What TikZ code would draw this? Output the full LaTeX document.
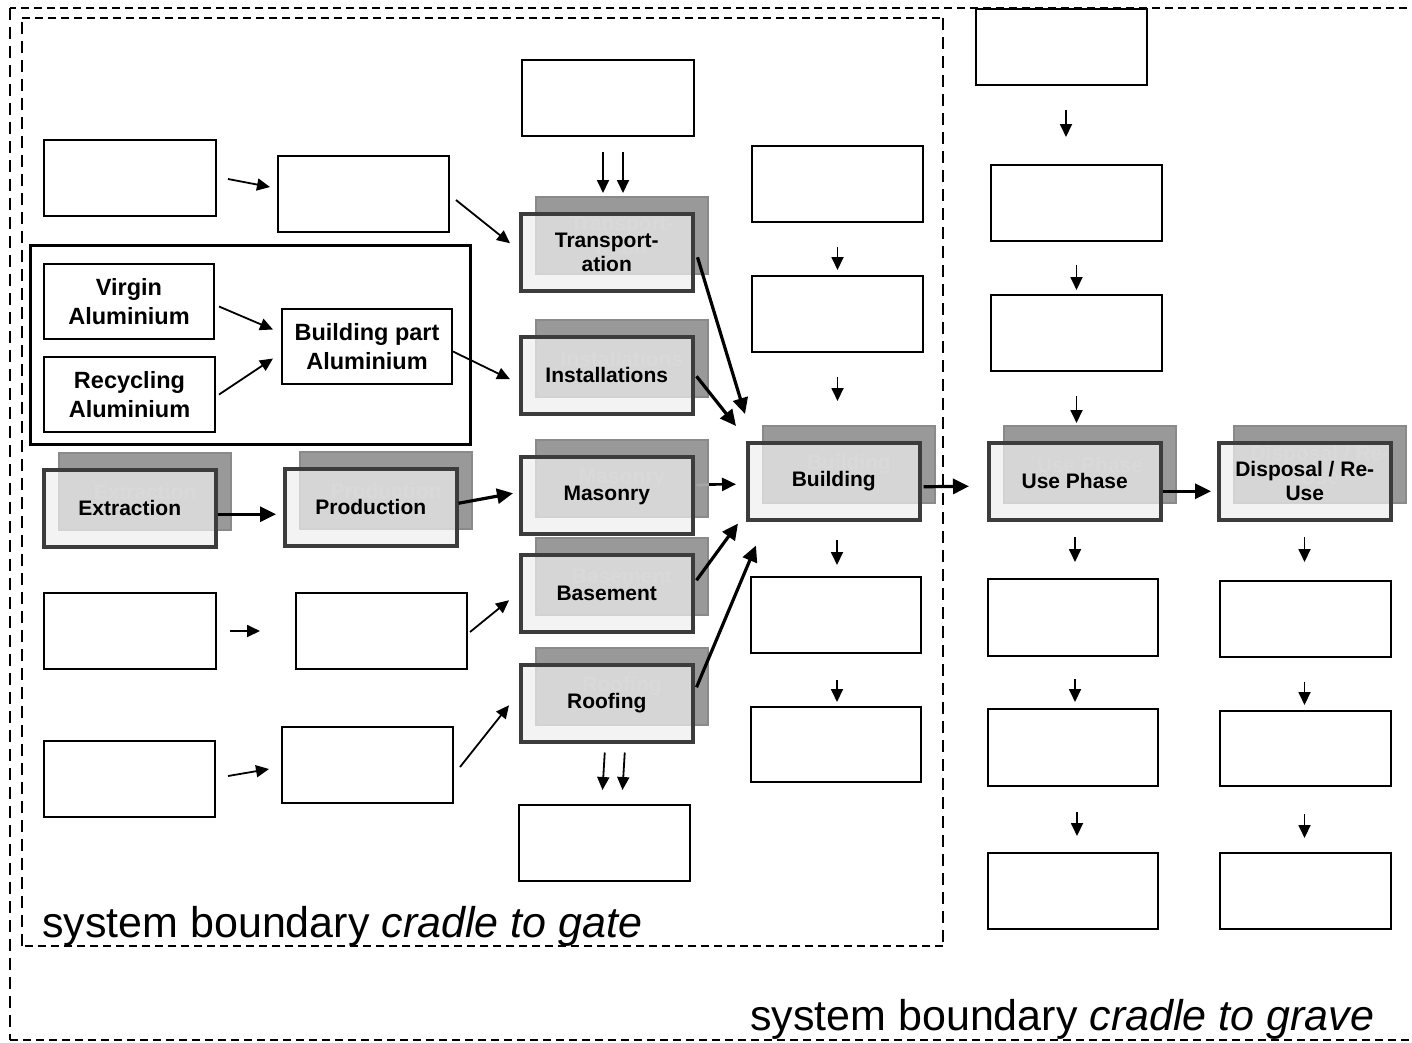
\documentclass[tikz,border=0pt]{standalone}
\usepackage{fontspec}
\setmainfont{Liberation Sans}
\usetikzlibrary{arrows.meta,calc}
\definecolor{backfill}{HTML}{999999}
\definecolor{backline}{HTML}{8A8A8A}
\definecolor{ghost}{HTML}{A4A4A4}
\definecolor{frontfill}{HTML}{EEEEEE}
\definecolor{frontline}{HTML}{3C3C3C}
\newcommand{\stagebox}[4]{%
  \node[backbox] (#1b) at ({#2+16},{#3-16}) {#4};
  \node[frontbox] (#1) at (#2,#3) {#4};}
\begin{document}
\begin{tikzpicture}[x=1pt,y=-1pt,
  wbox/.style={draw=black, line width=2pt, fill=white, anchor=north west,
    minimum width=171pt, minimum height=76pt, inner sep=0pt},
  albox/.style={wbox, minimum width=170pt, minimum height=75pt, align=center,
    font=\fontsize{23.5}{29}\selectfont\bfseries},
  backbox/.style={anchor=north west, minimum width=172pt, minimum height=77pt,
    fill=backfill, draw=backline, line width=2pt, text=ghost, align=center,
    font=\fontsize{21}{24}\selectfont\bfseries, inner sep=0pt},
  frontbox/.style={backbox, fill=frontfill, fill opacity=0.72, text opacity=1,
    draw=frontline, line width=3.5pt, text=black},
  hboundary/.style={dash pattern=on 8pt off 5pt, line width=1.8pt},
  vboundary/.style={dash pattern=on 12pt off 7pt, line width=1.8pt},
  thinarr/.style={line width=1.8pt, -{Triangle[length=13pt,width=12pt]}},
  thickarr/.style={line width=3.2pt, -{Triangle[length=16pt,width=15pt]}},
  caption/.style={anchor=base west, inner sep=0pt, font=\fontsize{43}{50}\selectfont}
]
\useasboundingbox (0,0) rectangle (1412,1042);

% system boundaries
\coordinate (o1) at (10,8);
\coordinate (o2) at (10,1040);
\draw[hboundary] (1420,8) -- (o1);
\draw[vboundary] (o1) -- (o2);
\draw[hboundary, line width=1.3pt] (o2) -- (1420,1040);
\coordinate (i1) at (22,18);
\coordinate (i2) at (943,946);
\draw[hboundary] (i1) -- (i1 -| i2);
\draw[vboundary] (i1 -| i2) -- (i2);
\draw[hboundary] (i2) -- (i2 -| i1);
\draw[vboundary] (i2 -| i1) -- (i1);
\node[caption] (gate) at (42,937) {system boundary \textit{cradle to gate}};
\node[caption] (grave) at (750,1030) {system boundary \textit{cradle to grave}};

% aluminium group
\node[draw, line width=3pt, anchor=north west, minimum width=440pt,
  minimum height=199pt, inner sep=0pt] (algroup) at (29,244) {};
\node[albox] (virgin) at (43,263) {Virgin\\Aluminium};
\node[albox, minimum width=171pt] (recyc) at (43,356) {Recycling\\Aluminium};
\node[albox] (bpart) at (281,308) {Building part\\Aluminium};

% empty boxes
\node[wbox, minimum width=172pt] (a1) at (43,139) {};
\node[wbox] (a2) at (277,155) {};
\node[wbox, minimum width=172pt] (topc) at (521,59) {};
\node[wbox] (c4a) at (751,145) {};
\node[wbox] (c4b) at (751,275) {};
\node[wbox, minimum width=170pt] (c4c) at (750,576) {};
\node[wbox, minimum width=170pt, minimum height=75pt] (c4d) at (750,706) {};
\node[wbox] (tr) at (975,8) {};
\node[wbox] (c5a) at (990,164) {};
\node[wbox] (c5b) at (990,294) {};
\node[wbox, minimum width=170pt, minimum height=77pt] (u1) at (987,578) {};
\node[wbox, minimum width=170pt, minimum height=77pt] (u2) at (987,708) {};
\node[wbox, minimum width=170pt] (u3) at (987,852) {};
\node[wbox] (d1) at (1219,580) {};
\node[wbox, minimum height=75pt] (d2) at (1219,710) {};
\node[wbox] (d3) at (1219,852) {};
\node[wbox, minimum width=172pt] (l1) at (43,592) {};
\node[wbox] (l2) at (295,592) {};
\node[wbox] (b1) at (43,740) {};
\node[wbox] (b2) at (281,726) {};
\node[wbox] (botc) at (518,804) {};

% stage boxes
\stagebox{extr}{42}{468}{Extraction}
\stagebox{prod}{283}{467}{Production}
\stagebox{transp}{519}{212}{Transport-\\ation}
\stagebox{inst}{519}{335}{Installations}
\stagebox{mason}{519}{455}{Masonry}
\stagebox{base}{519}{553}{Basement}
\stagebox{roof}{519}{663}{Roofing}
\stagebox{bldg}{746}{441}{Building}
\stagebox{use}{987}{441}{Use Phase}
\stagebox{disp}{1217}{441}{Disposal / Re-\\Use}

% thin arrows
\draw[thinarr] ($(a1.east)+(11,1)$) -- ($(a2.west)+(-7,-7)$);
\draw[thinarr] ($(a2.east)+(6,6)$) -- ($(transp.west)+(-9,-9)$);
\draw[thinarr] ($(virgin.east)+(4,5)$) -- ($(bpart.west)+(-8,-17)$);
\draw[thinarr] ($(recyc.east)+(3,0)$) -- ($(bpart.west)+(-8,12)$);
\draw[thinarr] ($(bpart.east)+(0,5)$) -- ($(inst.west)+(-9,4)$);
\draw[thinarr] ($(l1.east)+(13,0)$) -- ($(l2.west)+(-35,0)$);
\draw[thinarr] ($(l2.east)+(2,1)$) -- ($(base.west)+(-10,7)$);
\draw[thinarr] ($(b1.east)+(12,-3)$) -- ($(b2.west)+(-12,4)$);
\draw[thinarr] ($(b2.east)+(6,2)$) -- ($(roof.west)+(-10,2)$);
% double arrows
\draw[thinarr] ($(topc.south)+(-5,15)$) -- ($(transpb.north)+(-19,-3)$);
\draw[thinarr] ($(topc.south)+(15,15)$) -- ($(transpb.north)+(1,-3)$);
\draw[thinarr] ($(roof.south)+(-2,9)$) -- ($(botc.north)+(-2,-14)$);
\draw[thinarr] ($(roof.south)+(18,9)$) -- ($(botc.north)+(18,-14)$);
% column arrows
\draw[thinarr] ($(c4a.south)+(0,24)$) -- ($(c4b.north)+(0,-5)$);
\draw[thinarr] ($(c4b.south)+(0,24)$) -- ($(c4b.south)+(0,48)$);
\draw[thinarr] ($(c4c.north)+(1,-36)$) -- ($(c4c.north)+(1,-11)$);
\draw[thinarr] ($(c4c.south)+(1,26)$) -- ($(c4d.north)+(1,-4)$);
\draw[thinarr] ($(tr.south)+(4.5,24)$) -- ($(tr.south)+(4.5,51)$);
\draw[thinarr] ($(c5a.south)+(0,23)$) -- ($(c5b.north)+(0,-4)$);
\draw[thinarr] ($(c5b.south)+(0,24)$) -- ($(c5b.south)+(0,51)$);
\draw[thinarr] ($(u1.north)+(2,-41)$) -- ($(u1.north)+(2,-16)$);
\draw[thinarr] ($(u1.south)+(2,22)$) -- ($(u2.north)+(2,-6)$);
\draw[thinarr] ($(u2.south)+(4,25)$) -- ($(u3.north)+(4,-16)$);
\draw[thinarr] ($(d1.north)+(-1,-43)$) -- ($(d1.north)+(-1,-18)$);
\draw[thinarr] ($(d1.south)+(-1,24)$) -- ($(d2.north)+(-1,-5)$);
\draw[thinarr] ($(d2.south)+(-1,27)$) -- ($(d3.north)+(-1,-14)$);

% thick arrows
\draw[thickarr] ($(extr.east)+(0,6)$) -- ($(prod.west)+(-7,7)$);
\draw[thickarr] ($(prod.east)+(0,-4)$) -- ($(mason.west)+(-6,-2)$);
\draw[thickarr] ($(transp.east)+(3,5)$) -- ($(bldg.north west)+(-1,-27)$);
\draw[thickarr] ($(inst.east)+(2,1)$) -- ($(bldg.north west)+(-10,-15)$);
\draw[line width=2.6pt, gray!70] ($(mason.east)+(2,-10)$) -- ($(masonb.east)+(0,6)$);
\draw[line width=2.6pt, -{Triangle[length=14pt,width=13pt]}] ($(masonb.east)+(0,6)$) -- ($(bldg.west)+(-10,3)$);
\draw[thickarr] ($(base.east)+(2,-13)$) -- ($(bldg.south west)+(-8,2)$);
\draw[thickarr] ($(roof.east)+(2,-16)$) -- ($(bldg.south west)+(10,24)$);
\draw[thickarr] ($(bldg.east)+(2,5.5)$) -- ($(use.west)+(-18,5)$);
\draw[thickarr] ($(use.east)+(0,10)$) -- ($(disp.west)+(-6,10)$);
\end{tikzpicture}
\end{document}
